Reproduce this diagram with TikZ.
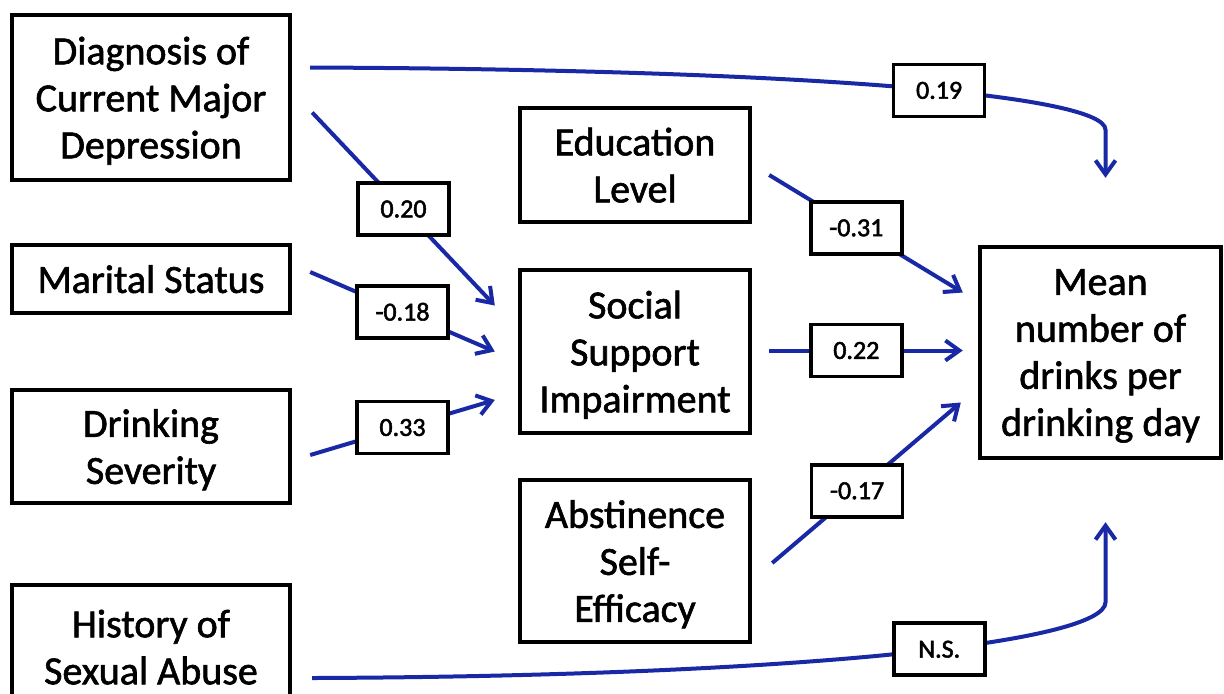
\documentclass[tikz,border=0pt]{standalone}
\usepackage{fontspec}
\setmainfont{Carlito}
\newfontfamily\boxfont{Carlito}[FakeBold=1.5]
\newfontfamily\wtfont{Carlito}[FakeBold=2]
\usetikzlibrary{arrows.meta,calc}
\definecolor{pathblue}{RGB}{25,40,165}
\tikzset{
  var/.style={draw=black, line width=2.2pt, align=center, inner sep=0pt, text depth=-1.5pt,
    font=\boxfont\fontsize{20}{23.5}\selectfont},
  wt/.style={draw=black, fill=white, text=black, line width=1.8pt, inner sep=0pt,
    minimum width=45.5pt, minimum height=26pt, font=\wtfont\fontsize{13}{15}\selectfont},
  arr/.style={-{Straight Barb[length=7pt,width=10pt]}, pathblue, line width=2pt}
}

\begin{document}
\begin{tikzpicture}[x=0.5pt,y=-0.5pt]
  \useasboundingbox (0,0) rectangle (1224,693);
  % predictors
  \node[var, minimum width=139pt, minimum height=82.5pt] (dep) at (151,97.5) {Diagnosis of\\Current Major\\Depression};
  \node[var, minimum width=139pt, minimum height=34pt] (mar) at (151,279) {Marital Status};
  \node[var, minimum width=139pt, minimum height=56.5pt] (drk) at (151,446.5) {Drinking\\Severity};
  \node[var, minimum width=139pt, minimum height=62pt] (hist) at (151,647) {History of\\Sexual Abuse};
  % mediators
  \node[var, minimum width=115pt, minimum height=57pt] (edu) at (635,165) {Education\\Level};
  \node[var, minimum width=115pt, minimum height=81.5pt] (soc) at (635,351.5) {Social\\Support\\Impairment};
  \node[var, minimum width=115pt, minimum height=81pt] (abs) at (635,561) {Abstinence\\Self-\\Efficacy};
  % outcome
  \node[var, minimum width=120.5pt, minimum height=105.5pt] (mean) at (1100.5,352.5) {Mean\\number of\\drinks per\\drinking day};

  \path[arr]
  ($(dep.east)+(20,15)$) edge node[wt] {0.20} ($(soc.west)+(-23,-46)$)
  ($(mar.east)+(18,-7)$) edge node[wt] {-0.18} ($(soc.west)+(-23,0)$)
  ($(drk.east)+(18,8.5)$) edge node[wt] {0.33} ($(soc.west)+(-23,48.5)$)
  ($(edu.east)+(17,10)$) edge node[wt,pos=0.45] {-0.31} ($(mean.west)+(-15,-60)$)
  ($(soc.east)+(17,-1)$) edge node[wt,pos=0.45] {0.22} ($(mean.west)+(-15,-2)$)
  ($(abs.east)+(20,2)$) edge node[wt,pos=0.45] {-0.17} ($(mean.west)+(-17,50)$);

  % direct paths
  \draw[arr] ($(dep.east)+(18,-30)$) .. controls +(492,2) and +(0,-35) .. node[wt,pos=0.56] {0.19}
    ($(mean.north)+(5,-115)$) -- ($(mean.north)+(5,-67)$);
  \draw[arr] ($(hist.east)+(20,31)$) .. controls +(490,-2) and +(0,40) .. node[wt,pos=0.56] {N.S.}
    ($(mean.south)+(5,142)$) -- ($(mean.south)+(5,62)$);
\end{tikzpicture}
\end{document}
